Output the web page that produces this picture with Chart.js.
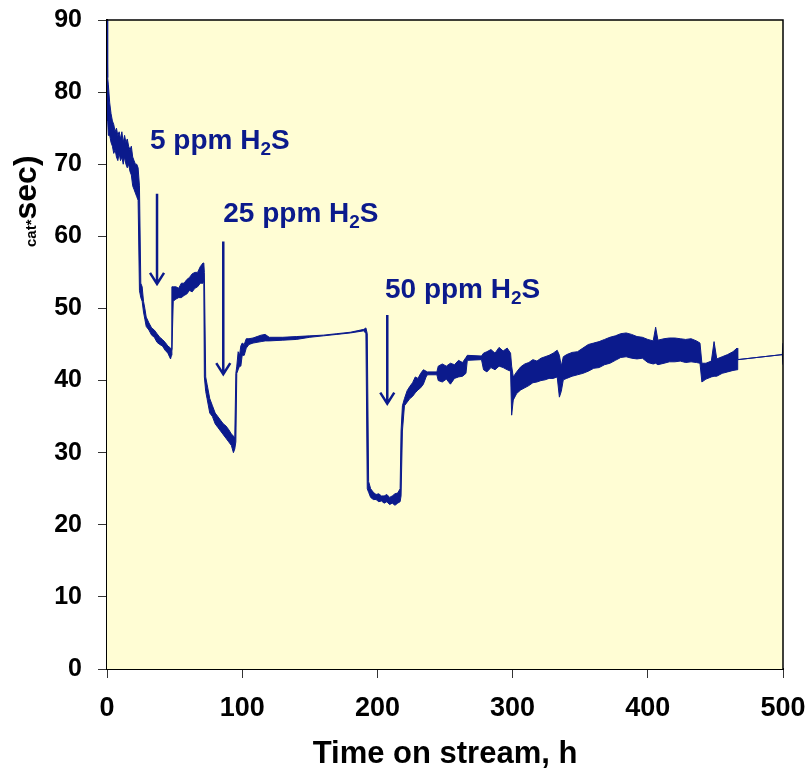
<!DOCTYPE html>
<html>
<head>
<meta charset="utf-8">
<script src="https://cdn.jsdelivr.net/npm/chart.js@4.4.1/dist/chart.umd.min.js"></script>
<style>
  html, body { margin:0; padding:0; background:#fff; }
  #rateChart { display:block; }
</style>
</head>
<body>
<canvas id="rateChart" width="808" height="775"></canvas>
<script>
/* ===============================
   RATE vs TIME ON STREAM
   noisy signal kept as low/high envelope
================================ */

const hours = [
  0, 0.5, 1, 2, 3, 4, 5, 6, 7, 8,
  9, 10, 11, 12, 13, 14, 15, 16, 17, 18,
  19, 20, 21, 22, 23, 24, 25, 26, 27, 28,
  29, 31, 33, 35, 37, 39, 41, 43, 45, 47,
  47.7, 48, 49, 51, 53, 55, 57, 59, 61, 63,
  65, 67, 69, 71, 71.6, 72, 73, 74, 76, 78,
  80, 82, 84, 86, 88, 90, 92, 93.5, 94.5, 95.3,
  96, 97, 98, 99, 100, 101.5, 103, 105, 108, 111,
  114, 117, 120, 130, 140, 150, 160, 170, 180, 190,
  191.5, 192.5, 193.5, 195, 197, 199, 201, 203, 205, 207,
  209, 211, 213, 215, 216.8, 217.5, 218.5, 220, 222, 224,
  226, 228, 230, 232, 234, 236, 237, 244, 245, 248,
  251, 254, 257, 260, 263, 265.5, 266.5, 277, 278.5, 281,
  284, 287, 290, 293, 296, 298.5, 299.3, 300.5, 303, 306,
  309, 312, 315, 318, 321, 324, 327, 330, 333, 334.6,
  336, 337.5, 340, 344, 348, 352, 356, 360, 364, 368,
  372, 376, 380, 384, 388, 392, 396, 400, 404, 405.8,
  407.5, 412, 416, 420, 424, 428, 432, 436, 438.6, 440,
  443, 447, 449, 451, 455, 459, 463, 466, 466.5, 499.5,
  500
];

const rateLow = [
  80, 76, 74, 74, 73, 72.5, 71.5, 72, 71, 70.5,
  71.5, 70.5, 71, 70, 71, 70, 69.5, 70, 69, 68.5,
  67, 66.5, 66, 65.5, 65, 52.5, 51.5, 51, 49.5, 48.5,
  47.5, 47, 46.3, 46, 45.3, 45, 44.8, 44.2, 43.8, 43,
  43.5, 44, 51, 51.3, 51.5, 51.5, 51.8, 52, 52.5, 52.3,
  52.8, 53, 53.5, 53.5, 54, 40.5, 38.5, 37.5, 35.5, 35,
  34, 33.5, 33, 32.5, 32, 31.5, 31, 30, 30.5, 31.5,
  41, 41.5, 42, 42, 43.5, 43.5, 44.5, 45, 45.2, 45.3,
  45.4, 45.5, 45.5, 45.6, 45.7, 46, 46.2, 46.4, 46.6, 46.9,
  46.5, 25, 24.5, 23.8, 23.5, 23.5, 23.2, 23.3, 23, 23.2,
  22.8, 23, 22.7, 23, 23.2, 24, 33, 36.5, 37, 37.5,
  37.8, 38.3, 38.7, 39, 39.5, 40.5, 40.8, 40.8, 40, 39.8,
  40.2, 39.5, 40.3, 40.5, 40.6, 41, 42.8, 42.9, 41.5, 41.2,
  41.8, 41.5, 42, 41.8, 41.5, 41.3, 35.2, 37.3, 38.2, 38.7,
  39, 39.3, 39.7, 39.8, 40, 40.1, 40.3, 40.3, 40.5, 37.7,
  38.5, 40.1, 40.3, 40.6, 40.8, 41, 41.3, 41.7, 41.8, 42.2,
  42.4, 42.8, 43.2, 43.3, 43.1, 43, 43.1, 42.5, 42.3, 42.4,
  42.2, 42.4, 42.6, 42.6, 42.7, 42.5, 42.6, 42.5, 42.4, 39.8,
  40.2, 40.5, 40.6, 40.6, 41, 41.2, 41.4, 41.5, 42.9, 43.6,
  42.2
];

const rateHigh = [
  90, 82, 81, 78.5, 77, 76, 75.5, 74.5, 75, 74,
  74.5, 73.5, 74.5, 73, 74, 73, 73.5, 72.5, 72, 72.5,
  71, 70.5, 70, 70, 69.5, 67, 53.5, 53, 51, 50,
  48.8, 48, 47.3, 47, 46.5, 46, 45.7, 45.3, 44.8, 44.5,
  44.3, 53, 53, 53, 52.8, 53.5, 53.5, 54, 54.3, 54.8,
  55, 55, 55.8, 56.3, 56.3, 55, 40.5, 39.5, 37.5, 36.5,
  35.5, 35, 34.5, 34, 33.7, 33.2, 32.6, 32.3, 32, 41,
  42, 44, 43.5, 44.8, 45.2, 45, 45.8, 45.8, 45.9, 46.1,
  46.3, 46.4, 46, 46, 46.1, 46.2, 46.3, 46.5, 46.7, 47.1,
  47.3, 46.5, 26, 25, 24.5, 24.2, 24.3, 24, 24, 24.2,
  23.8, 24, 24.3, 24.4, 25, 33, 36.5, 37.5, 38.6, 39.2,
  39.7, 40.5, 40.3, 41, 41.5, 41.3, 41.2, 41.2, 42, 42.3,
  42, 42.4, 42.2, 42.8, 42.5, 43.2, 43.5, 43.4, 43.8, 44,
  44.3, 43.8, 44.6, 44.1, 44.5, 43.8, 42, 40.5, 41.2, 41.9,
  42.3, 42.5, 42.9, 42.7, 43.1, 43.3, 43.5, 43.8, 44.2, 43.5,
  42, 43.3, 43.6, 43.9, 44, 44.5, 45, 45.2, 45.4, 45.7,
  46, 46.2, 46.5, 46.6, 46.4, 46.1, 46, 45.7, 45.5, 47.4,
  45.6, 45.8, 45.9, 45.9, 45.8, 45.7, 45.8, 45.5, 45.2, 42.4,
  42.4, 42.7, 45.4, 43, 43.3, 43.6, 44, 44.5, 42.9, 43.6,
  45.2
];

/* H2S step annotations (data units) */
const noteLabels = ["5 ppm", "25 ppm", "50 ppm"];
const noteX      = [31.8, 86, 205.6];
const noteY      = [72.1, 62, 51.4];
const arrowX     = [37, 86, 207.3];
const arrowFrom  = [65.9, 59.3, 49.1];
const arrowTo    = [53.4, 40.9, 36.8];

const FONT = '"Liberation Sans", Arial, sans-serif';
const NAVY = "#0b1a8c";

const toPoints = (ys) => hours.map((h, i) => ({ x: h, y: ys[i] }));


/* PLOT BACKGROUND + FRAME + NOTES */
const paperPlugin = {
  id: "paper",

  beforeDatasetsDraw(chart){
    const { ctx, chartArea: a } = chart;
    ctx.save();
    ctx.fillStyle = "#fffdd4";
    ctx.fillRect(a.left, a.top, a.right - a.left, a.bottom - a.top);
    ctx.restore();
  },

  afterDatasetsDraw(chart){
    const { ctx, chartArea: a, scales } = chart;
    const xs = scales.x, ys = scales.y;

    ctx.save();

    // top and right frame
    ctx.strokeStyle = "#000";
    ctx.lineWidth = 1.5;
    ctx.beginPath();
    ctx.moveTo(a.left, a.top);
    ctx.lineTo(a.right, a.top);
    ctx.lineTo(a.right, a.bottom);
    ctx.stroke();

    // arrows
    ctx.strokeStyle = NAVY;
    ctx.lineWidth = 2.5;
    arrowX.forEach((t, i) => {
      const x = xs.getPixelForValue(t);
      const y0 = ys.getPixelForValue(arrowFrom[i]);
      const y1 = ys.getPixelForValue(arrowTo[i]);
      ctx.beginPath();
      ctx.moveTo(x, y0);
      ctx.lineTo(x, y1);
      ctx.moveTo(x - 7, y1 - 11);
      ctx.lineTo(x, y1);
      ctx.lineTo(x + 7, y1 - 11);
      ctx.stroke();
    });

    // labels with subscript
    ctx.fillStyle = NAVY;
    ctx.textBaseline = "alphabetic";
    ctx.textAlign = "left";
    noteLabels.forEach((txt, i) => {
      let x = xs.getPixelForValue(noteX[i]);
      const y = ys.getPixelForValue(noteY[i]);
      ctx.font = `bold 28px ${FONT}`;
      const head = txt + " H";
      ctx.fillText(head, x, y);
      x += ctx.measureText(head).width;
      ctx.font = `bold 19px ${FONT}`;
      ctx.fillText("2", x, y + 6);
      x += ctx.measureText("2").width;
      ctx.font = `bold 28px ${FONT}`;
      ctx.fillText("S", x, y);
    });

    ctx.restore();
  },

  afterDraw(chart){
    // y axis title (only its tail is on the canvas)
    const ctx = chart.ctx;
    ctx.save();
    ctx.translate(36, 247);
    ctx.rotate(-Math.PI / 2);
    ctx.fillStyle = "#000";
    ctx.textBaseline = "alphabetic";
    ctx.textAlign = "left";
    ctx.font = `bold 15px ${FONT}`;
    ctx.fillText("cat*", 0, 0);
    const w = ctx.measureText("cat*").width;
    ctx.font = `bold 32px ${FONT}`;
    ctx.fillText("sec)", w, 0);
    ctx.restore();
  }
};


/* CHART */
function renderChart(){

  const ctx = document.getElementById("rateChart");

  new Chart(ctx, {
    type: "line",
    data: {
      datasets: [
        {
          data: toPoints(rateHigh),
          borderColor: NAVY,
          borderWidth: 1,
          pointRadius: 0,
          tension: 0,
          fill: false
        },
        {
          data: toPoints(rateLow),
          borderColor: NAVY,
          backgroundColor: NAVY,
          borderWidth: 1,
          pointRadius: 0,
          tension: 0,
          fill: "-1"
        }
      ]
    },
    options: {
      responsive: false,
      animation: false,
      layout: { padding: { top: 20, right: 25, left: 0, bottom: 0 } },
      plugins: {
        legend: { display: false },
        tooltip: { enabled: false }
      },
      scales: {
        x: {
          type: "linear",
          min: 0,
          max: 500,
          ticks: {
            stepSize: 100,
            color: "#000",
            padding: 14,
            maxRotation: 0,
            font: { family: FONT, size: 27, weight: "bold" }
          },
          grid: { drawOnChartArea: false, tickLength: 9, color: "#333" },
          border: { color: "#000", width: 2 },
          title: {
            display: true,
            text: "Time on stream, h",
            color: "#000",
            padding: { top: 0, bottom: 2 },
            font: { family: FONT, size: 31, weight: "bold" }
          },
          afterFit(scale){
            scale.height = 106;
            scale.paddingLeft = 0;
            scale.paddingRight = 0;
          }
        },
        y: {
          min: 0,
          max: 90,
          ticks: {
            stepSize: 10,
            color: "#000",
            padding: 16,
            font: { family: FONT, size: 25, weight: "bold" }
          },
          grid: { drawOnChartArea: false, tickLength: 9, color: "#333" },
          border: { color: "#000", width: 2 },
          afterFit(scale){
            scale.width = 107;
            scale.paddingTop = 0;
            scale.paddingBottom = 0;
          }
        }
      }
    },
    plugins: [paperPlugin]
  });
}

renderChart();
</script>
</body>
</html>
